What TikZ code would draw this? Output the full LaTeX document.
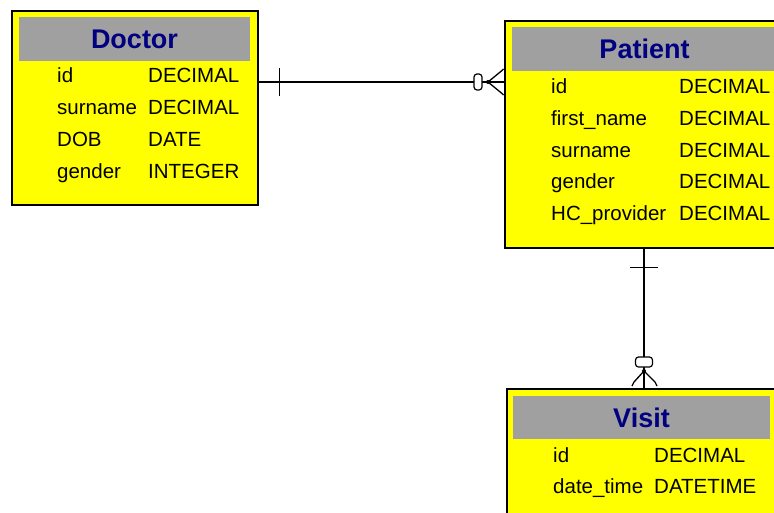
\documentclass[tikz,border=0pt]{standalone}
\usepackage{fontspec}
\setmainfont{Liberation Sans}
\usetikzlibrary{calc}
\definecolor{entfill}{HTML}{FFFF00}
\definecolor{headfill}{HTML}{A0A0A0}
\definecolor{headtext}{HTML}{000080}
\begin{document}
\begin{tikzpicture}[x=1pt,y=-1pt,
  entity/.style={draw=black,line width=1.8pt,fill=entfill,rectangle,inner sep=0pt,anchor=north west},
  header/.style={fill=headfill,rectangle,inner sep=0pt,anchor=north west},
  title/.style={font=\fontsize{27}{27}\selectfont\bfseries,text=headtext,anchor=base,inner sep=0pt},
  field/.style={font=\fontsize{20.5}{20.5}\selectfont,anchor=base west,inner sep=0pt},
  link/.style={line width=1.3pt,draw=black},
  optmark/.style={line width=1.2pt,draw=black,fill=white,rounded corners=3pt}]
\useasboundingbox (0,0) rectangle (774,512);
\clip (0,0) rectangle (774,512);
\fill[white] (0,0) rectangle (774,512);

% Doctor entity
\node[entity,minimum width=246pt,minimum height=194pt] (doctor) at (11,10) {};
\node[header,minimum width=231pt,minimum height=44pt] (doctorhead) at (19,17) {};
\node[title] (doctortitle) at (134.5,48) {Doctor};
\node[field] (d1n) at (57,82) {id};
\node[field] (d1t) at (148,82) {DECIMAL};
\node[field] (d2n) at (57,114) {surname};
\node[field] (d2t) at (148,114) {DECIMAL};
\node[field] (d3n) at (57,146) {DOB};
\node[field] (d3t) at (148,146) {DATE};
\node[field] (d4n) at (57,178) {gender};
\node[field] (d4t) at (148,178) {INTEGER};

% Patient entity
\node[entity,minimum width=280pt,minimum height=227pt] (patient) at (504,20) {};
\node[header,minimum width=265pt,minimum height=44pt] (patienthead) at (512,27) {};
\node[title] (patienttitle) at (644.5,58) {Patient};
\node[field] (p1n) at (551,93) {id};
\node[field] (p1t) at (679,93) {DECIMAL};
\node[field] (p2n) at (551,125) {first\_name};
\node[field] (p2t) at (679,125) {DECIMAL};
\node[field] (p3n) at (551,157) {surname};
\node[field] (p3t) at (679,157) {DECIMAL};
\node[field] (p4n) at (551,188) {gender};
\node[field] (p4t) at (679,188) {DECIMAL};
\node[field] (p5n) at (551,220) {HC\_provider};
\node[field] (p5t) at (679,220) {DECIMAL};

% Visit entity
\node[entity,minimum width=272pt,minimum height=150pt] (visit) at (506,388) {};
\node[header,minimum width=257pt,minimum height=43pt] (visithead) at (513,396) {};
\node[title] (visittitle) at (641.5,427) {Visit};
\node[field] (v1n) at (553,462) {id};
\node[field] (v1t) at (654,462) {DECIMAL};
\node[field] (v2n) at (553,493) {date\_time};
\node[field] (v2t) at (654,493) {DATETIME};

% Doctor -- Patient: exactly one to zero or many
\coordinate (r1a) at (doctor.east |- 0,82);
\coordinate (r1b) at (patient.west |- 0,82);
\draw[link] (r1a) -- (r1b);
\draw[link] ($(r1a)+(21,-14)$) -- ++(0,28);
\draw[optmark] ($(r1b)+(-30,-8)$) rectangle ++(8,16);
\fill ($(r1b)+(-16,0)$) circle (2);
\draw[link] ($(r1b)+(-16,0)$) -- ++(14,-11.5) -- ++(1.5,-1.5);
\draw[link] ($(r1b)+(-16,0)$) -- ++(14,11.5) -- ++(1.5,1.5);

% Patient -- Visit: exactly one to zero or many
\coordinate (r2a) at (patient.south -| 644,0);
\coordinate (r2b) at (visit.north -| 644,0);
\draw[link] (r2a) -- (r2b);
\draw[link] ($(r2a)+(-14,19)$) -- ++(28,0);
\draw[optmark] ($(r2b)+(-8.5,-31)$) rectangle ++(17,10);
\fill ($(r2b)+(0,-17)$) circle (2);
\draw[link] ($(r2b)+(0,-17)$) -- ++(-10,11) -- ++(-2,4);
\draw[link] ($(r2b)+(0,-17)$) -- ++(11,11) -- ++(2,4);
\end{tikzpicture}
\end{document}
